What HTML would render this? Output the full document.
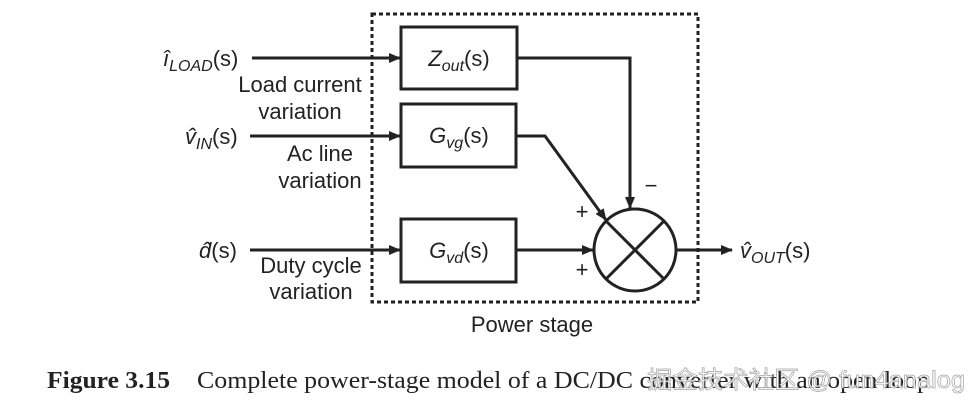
<!DOCTYPE html>
<html><head><style>
body{margin:0;background:#fff;width:975px;height:406px;overflow:hidden}
</style></head><body>
<svg width="975" height="406" xmlns="http://www.w3.org/2000/svg" font-family="Liberation Sans, sans-serif" fill="#222">
<defs><marker id="a" markerWidth="12" markerHeight="10" refX="11" refY="5" orient="auto" markerUnits="userSpaceOnUse"><path d="M0,0 L12,5 L0,10 z" fill="#222"/></marker></defs>
<rect x="372" y="14" width="326" height="288" fill="none" stroke="#222" stroke-width="3" stroke-dasharray="4,3"/>
<g fill="none" stroke="#222" stroke-width="3">
<rect x="401" y="27" width="116" height="62"/>
<rect x="401" y="104" width="115" height="63"/>
<rect x="401" y="219" width="115" height="63"/>
<circle cx="635" cy="250" r="41"/>
<line x1="606" y1="221" x2="664" y2="279"/><line x1="664" y1="221" x2="606" y2="279"/>
<line x1="252" y1="58" x2="400" y2="58" marker-end="url(#a)"/>
<line x1="250" y1="136" x2="400" y2="136" marker-end="url(#a)"/>
<line x1="250" y1="250" x2="400" y2="250" marker-end="url(#a)"/>
<polyline points="517,58 630,58 630,208" marker-end="url(#a)"/>
<polyline points="516,136 545,136 606,220" marker-end="url(#a)"/>
<line x1="516" y1="250" x2="593" y2="250" marker-end="url(#a)"/>
<line x1="676" y1="250" x2="732" y2="250" marker-end="url(#a)"/>
</g>
<g font-size="22">
<text x="459" y="66" text-anchor="middle"><tspan font-style="italic">Z</tspan><tspan font-size="16" dy="5" font-style="italic">out</tspan><tspan dy="-5">(s)</tspan></text>
<text x="459" y="143" text-anchor="middle"><tspan font-style="italic">G</tspan><tspan font-size="16" dy="5" font-style="italic">vg</tspan><tspan dy="-5">(s)</tspan></text>
<text x="459" y="258" text-anchor="middle"><tspan font-style="italic">G</tspan><tspan font-size="16" dy="5" font-style="italic">vd</tspan><tspan dy="-5">(s)</tspan></text>
<text x="163" y="66"><tspan font-style="italic">î</tspan><tspan font-size="16" dy="5" font-style="italic">LOAD</tspan><tspan dy="-5">(s)</tspan></text>
<text x="185" y="144"><tspan font-style="italic">v̂</tspan><tspan font-size="16" dy="5" font-style="italic">IN</tspan><tspan dy="-5">(s)</tspan></text>
<text x="199" y="258"><tspan font-style="italic">d̂</tspan>(s)</text>
<text x="740" y="258"><tspan font-style="italic">v̂</tspan><tspan font-size="16" dy="5" font-style="italic">OUT</tspan><tspan dy="-5">(s)</tspan></text>
<text x="300" y="92" text-anchor="middle">Load current</text>
<text x="300" y="119" text-anchor="middle">variation</text>
<text x="320" y="161" text-anchor="middle">Ac line</text>
<text x="320" y="188" text-anchor="middle">variation</text>
<text x="311" y="273" text-anchor="middle">Duty cycle</text>
<text x="311" y="299" text-anchor="middle">variation</text>
<text x="532" y="332" text-anchor="middle">Power stage</text>
<text x="651" y="193" text-anchor="middle">−</text>
<text x="582" y="219" text-anchor="middle">+</text>
<text x="582" y="277" text-anchor="middle">+</text>
</g>
<text x="47" y="388" font-family="Liberation Serif, serif" font-size="24" font-weight="bold" textLength="123" lengthAdjust="spacingAndGlyphs">Figure 3.15</text>
<text x="197" y="388" font-family="Liberation Serif, serif" font-size="24" textLength="733" lengthAdjust="spacingAndGlyphs">Complete power-stage model of a DC/DC converter with an open loop</text>
<text x="647" y="388" font-family="Liberation Sans, Noto Sans CJK SC, sans-serif" font-size="24" fill="#fff" stroke="#999" stroke-width="0.7" opacity="0.9" textLength="318" lengthAdjust="spacingAndGlyphs">掘金技术社区 @ fun4analog</text>
</svg>
</body></html>
